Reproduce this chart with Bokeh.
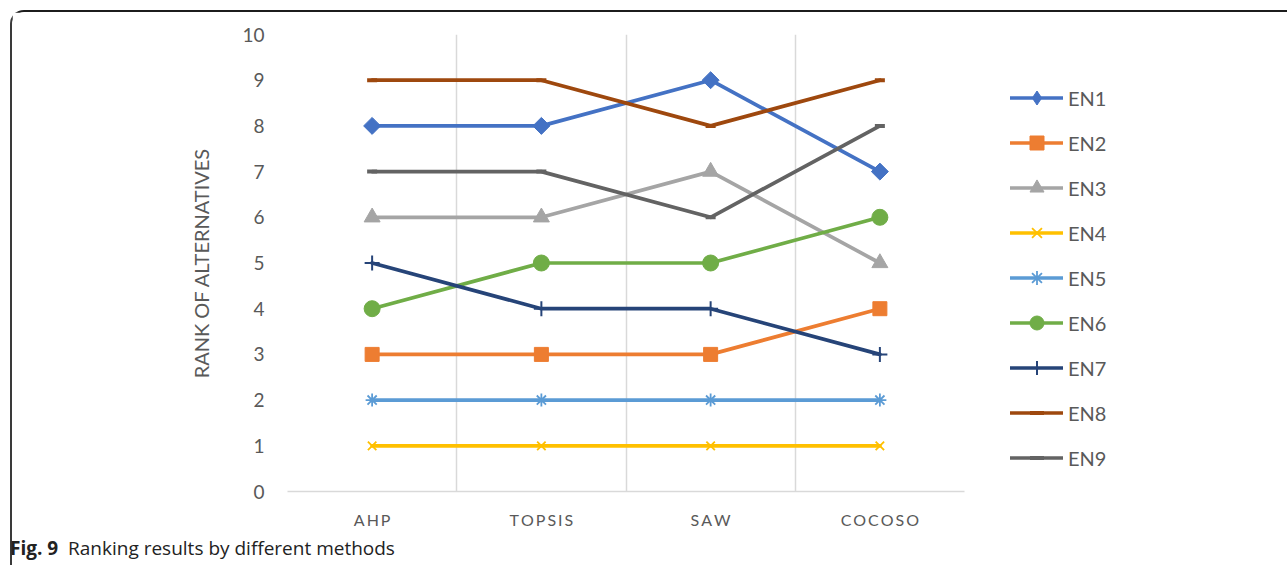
from bokeh.plotting import figure
from bokeh.models import (Range1d, FixedTicker, Legend, LegendItem, Grid, Div)
from bokeh.layouts import column
from bokeh.embed import file_html
from bokeh.resources import INLINE
import numpy as np

# Ranking of the alternatives produced by each method
methods = ["AHP", "TOPSIS", "SAW", "COCOSO"]
series_names = ["EN1", "EN2", "EN3", "EN4", "EN5", "EN6", "EN7", "EN8", "EN9"]
en1 = [8, 8, 9, 7]
en2 = [3, 3, 3, 4]
en3 = [6, 6, 7, 5]
en4 = [1, 1, 1, 1]
en5 = [2, 2, 2, 2]
en6 = [4, 5, 5, 6]
en7 = [5, 4, 4, 3]
en8 = [9, 9, 8, 9]
en9 = [7, 7, 6, 8]
y_ticks = list(range(0, 11))

series = [en1, en2, en3, en4, en5, en6, en7, en8, en9]
colors = ["#4472C4", "#ED7D31", "#A5A5A5", "#FFC000", "#5B9BD5",
          "#70AD47", "#264478", "#9E480E", "#636363"]
# marker, size, angle, marker line width
markers = [
    ("square", 12, np.pi / 4, 1),
    ("square", 14, 0, 1),
    ("triangle", 16, 0, 1),
    ("x", 12, 0, 1.8),
    ("asterisk", 13, 0, 1.8),
    ("circle", 16, 0, 1),
    ("cross", 15, 0, 2),
    ("dash", 10, 0, 4),
    ("dash", 10, 0, 4),
]

TEXT_COLOR = "#595959"
FONT = "Lato"

xs = [i + 0.5 for i in range(len(methods))]

p = figure(width=None, height=None, frame_width=677, frame_height=457,
           output_backend="svg", toolbar_location=None,
           x_range=Range1d(0, len(methods)), y_range=Range1d(0, 10),
           min_border_left=275, min_border_right=0,
           min_border_top=22, min_border_bottom=45)
p.outline_line_color = None
p.background_fill_color = "white"
p.border_fill_color = "white"

# axes
p.xaxis.ticker = FixedTicker(ticks=xs)
p.xaxis.major_label_overrides = {x: "\u2009".join(m) for x, m in zip(xs, methods)}
p.xaxis.axis_line_color = "#D9D9D9"
p.xaxis.axis_line_width = 1.5
p.xaxis.major_tick_line_color = None
p.xaxis.minor_tick_line_color = None
p.xaxis.major_label_standoff = 12
p.xaxis.major_label_text_font = FONT
p.xaxis.major_label_text_font_size = "16px"
p.xaxis.major_label_text_color = TEXT_COLOR

p.yaxis.ticker = FixedTicker(ticks=y_ticks)
p.yaxis.axis_line_color = None
p.yaxis.major_tick_line_color = None
p.yaxis.minor_tick_line_color = None
p.yaxis.major_label_standoff = 17
p.yaxis.major_label_text_font = FONT
p.yaxis.major_label_text_font_size = "19px"
p.yaxis.major_label_text_color = TEXT_COLOR
p.yaxis.axis_label = "RANK OF ALTERNATIVES"
p.yaxis.axis_label_text_font = FONT
p.yaxis.axis_label_text_font_size = "20px"
p.yaxis.axis_label_text_font_style = "normal"
p.yaxis.axis_label_text_color = TEXT_COLOR
p.yaxis.axis_label_standoff = 26

# vertical separators between methods
p.xgrid.visible = False
p.ygrid.visible = False
vgrid = Grid(dimension=0, ticker=FixedTicker(ticks=list(range(len(methods) + 1))),
             grid_line_color="#D9D9D9", grid_line_width=1.5)
p.add_layout(vgrid)

items = []
for name, ys, col, (mk, sz, ang, mlw) in zip(series_names, series, colors, markers):
    ln = p.line(xs, ys, line_color=col, line_width=3.7, line_cap="round",
                line_join="round")
    sc = p.scatter(xs, ys, marker=mk, size=sz, angle=ang, fill_color=col,
                   line_color=col, line_width=mlw)
    rends = [ln, sc]
    if ang:
        # the legend ignores marker rotation, so show a diamond key there
        key = p.scatter(xs, ys, marker="diamond", size=sz, fill_color=col,
                        line_color=col, line_width=mlw, visible=False)
        rends = [ln, key]
    items.append(LegendItem(label=name, renderers=rends))

legend = Legend(items=items, location="top_left", orientation="vertical",
                glyph_width=53, glyph_height=35, label_height=35,
                label_standoff=5, spacing=10, padding=0, margin=46,
                label_text_font=FONT, label_text_font_size="20px",
                label_text_color=TEXT_COLOR,
                border_line_color=None, background_fill_alpha=0)
p.add_layout(legend, "right")

caption = Div(text="<b>Fig.&nbsp;9</b>&nbsp;&nbsp;Ranking results by different methods",
              width=1275, height=29, margin=0,
              styles={"font-family": "'Open Sans'", "font-size": "19px",
                      "color": "#222222", "line-height": "24px",
                      "padding": "0", "margin-left": "-2px"})

page = column(p, caption, spacing=0, margin=(10, 0, 0, 10),
              styles={"border-top": "2px solid #1c1c1c",
                      "border-left": "2px solid #3a3a3a",
                      "border-top-left-radius": "14px"})

open("out.html", "w").write(file_html(page, INLINE))
